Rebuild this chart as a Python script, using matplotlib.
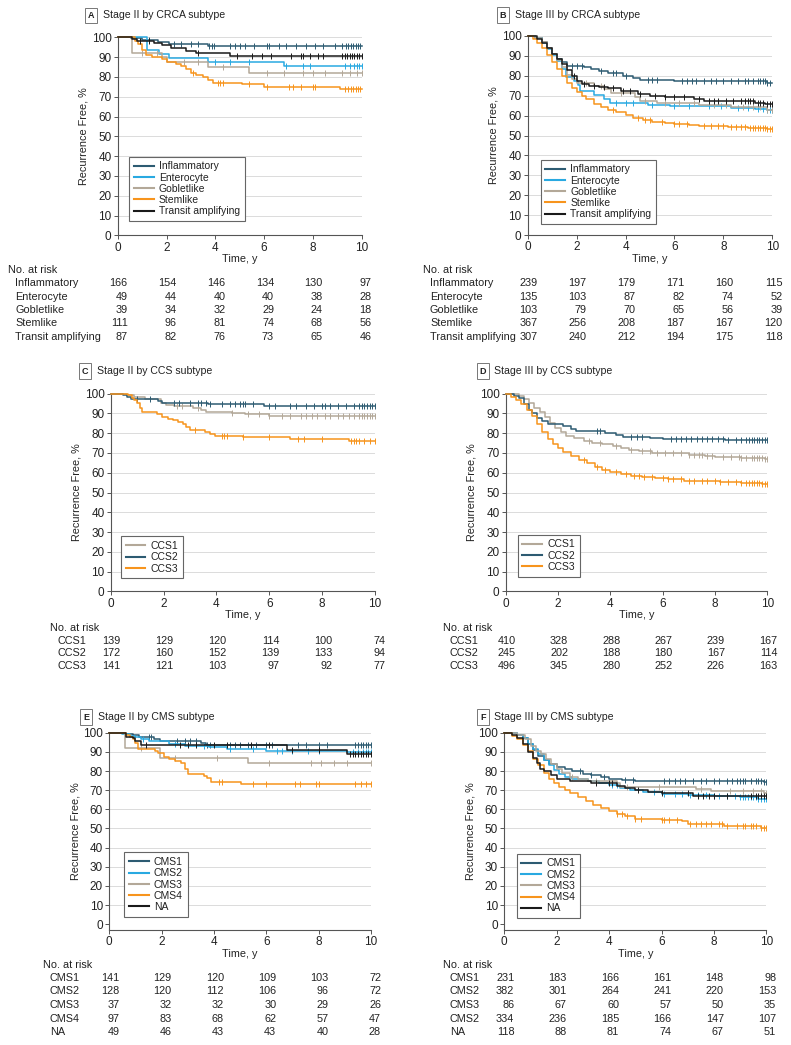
import numpy as np
import matplotlib
matplotlib.use('Agg')
import matplotlib.pyplot as plt
from matplotlib.transforms import blended_transform_factory

plt.rcParams['font.family'] = ['Liberation Sans', 'DejaVu Sans']
plt.rcParams['text.color'] = '#222222'

# colours
DARK = '#2d5b72'
BLUE = '#29a9e1'
GRAY = '#b3a898'
ORANGE = '#f7941d'
BLACK = '#1a1a1a'

TICKS = [0, 2, 4, 6, 8, 10]

# ---------------- Panel A: stage II by CRCA subtype ----------------
A_INFL_T = [0.55, 1.0, 1.65, 2.1, 3.7]
A_INFL_S = [99.4, 98.8, 97.6, 96.5, 95.8]
A_INFL_C = [1.3, 2.3, 2.6, 3.0, 3.3, 3.75, 3.85, 3.95, 4.6, 4.8, 5.0, 5.2, 5.6, 6.1, 6.2, 6.6, 6.9,
            7.3, 7.7, 8.1, 8.4, 8.9, 9.2, 9.35, 9.45, 9.55, 9.65, 9.75, 9.85, 9.95]
A_ENT_T = [1.2, 1.7, 2.1, 3.7, 6.8]
A_ENT_S = [93.8, 91.7, 89.6, 87.5, 85.4]
A_ENT_C = [4.0, 4.6, 5.4, 6.9, 7.6, 7.9, 9.3, 9.5, 9.7, 9.8, 9.9, 10.0]
A_GOB_T = [0.6, 1.8, 2.0, 3.7, 5.4]
A_GOB_S = [92.3, 89.9, 87.4, 84.8, 82.0]
A_GOB_C = [1.0, 1.6, 2.7, 3.3, 4.3, 6.1, 6.8, 7.6, 8.0, 8.5, 9.2, 9.5, 9.8, 10.0]
A_STEM_T = [0.7, 0.85, 1.0, 1.15, 1.4, 1.8, 2.0, 2.4, 2.6, 2.8, 3.0, 3.2, 3.5, 3.7, 3.9, 5.1, 6.0, 9.1]
A_STEM_S = [98.2, 96.4, 93.7, 91.0, 90.1, 89.2, 87.4, 86.5, 85.6, 83.8, 82.0, 81.1, 80.2, 78.4,
            77.0, 76.2, 75.0, 73.9]
A_STEM_C = [3.1, 4.1, 4.2, 4.3, 5.4, 6.1, 7.0, 7.2, 7.5, 8.0, 8.1, 9.3, 9.45, 9.55, 9.65, 9.75, 9.85, 9.95]
A_TA_T = [0.6, 0.8, 1.5, 1.8, 2.2, 2.8, 3.2, 4.6]
A_TA_S = [99.0, 98.0, 97.3, 96.1, 94.4, 93.2, 92.2, 90.7]
A_TA_C = [0.9, 1.3, 3.3, 4.9, 5.5, 5.9, 6.3, 7.1, 7.5, 7.6, 7.9, 8.2, 8.4, 9.2, 9.3, 9.4, 9.5, 9.6,
          9.7, 9.8, 9.9, 10.0]

# ---------------- Panel B: stage III by CRCA subtype ----------------
B_INFL_T = [0.3, 0.6, 0.8, 1.0, 1.2, 1.4, 1.6, 2.3, 2.6, 2.9, 3.3, 3.9, 4.3, 4.6, 6.0, 9.8]
B_INFL_S = [99.2, 97.0, 94.2, 91.0, 88.6, 86.7, 85.0, 84.3, 83.2, 82.2, 81.2, 80.0, 79.0, 78.0, 77.2, 76.6]
B_INFL_C = [1.8, 2.0, 2.2, 3.0, 3.5, 3.6, 4.0, 4.9, 5.1, 5.3, 6.3, 6.5, 6.7, 6.9, 7.2, 7.5, 7.7, 8.0,
            8.3, 8.6, 8.9, 9.0, 9.2, 9.4, 9.5, 9.6, 9.7, 9.8, 9.9]
B_ENT_T = [0.3, 0.6, 0.8, 1.0, 1.2, 1.4, 1.55, 1.9, 2.05, 2.15, 2.7, 3.1, 3.35, 4.9, 5.8, 8.3, 9.3, 9.8]
B_ENT_S = [99.0, 96.5, 93.5, 90.5, 87.5, 83.5, 79.5, 77.5, 75.5, 72.5, 70.5, 68.2, 66.2, 65.5, 64.8,
           64.0, 63.1, 62.6]
B_ENT_C = [3.6, 4.0, 4.3, 5.1, 6.0, 6.6, 7.4, 7.9, 8.6, 9.0, 9.4, 9.6, 9.8, 9.9, 10.0]
B_GOB_T = [0.3, 0.6, 0.8, 1.0, 1.2, 1.4, 1.6, 1.8, 2.0, 2.7, 3.1, 3.4, 4.4, 4.6, 5.3, 7.0, 8.3, 9.8]
B_GOB_S = [99.0, 97.0, 94.0, 91.0, 88.0, 84.5, 80.5, 78.5, 76.5, 75.0, 73.5, 71.5, 69.5, 67.5, 66.5,
           65.5, 64.3, 62.8]
B_GOB_C = [2.4, 3.0, 3.8, 4.8, 5.6, 6.2, 6.8, 7.6, 8.1, 8.8, 9.2, 9.5, 9.8, 10.0]
B_STEM_T = [0.2, 0.4, 0.6, 0.8, 1.0, 1.2, 1.4, 1.6, 1.8, 2.0, 2.2, 2.4, 2.7, 3.0, 3.3, 3.6, 4.0, 4.3,
            4.7, 5.1, 5.6, 6.0, 6.6, 7.0, 7.6, 8.2, 9.0, 9.8]
B_STEM_S = [98.5, 96.5, 94.0, 90.5, 87.0, 83.5, 80.0, 76.5, 74.0, 72.0, 70.0, 68.5, 66.0, 64.5, 63.0,
            62.0, 60.5, 59.0, 58.0, 57.0, 56.5, 56.0, 55.5, 55.0, 54.6, 54.3, 54.0, 53.3]
B_STEM_C = [3.5, 4.5, 4.8, 5.0, 5.5, 6.0, 6.2, 6.5, 7.2, 7.5, 7.8, 8.0, 8.3, 8.5, 8.7, 8.9, 9.1, 9.2,
            9.3, 9.4, 9.5, 9.6, 9.7, 9.8, 9.9, 10.0]
B_TA_T = [0.4, 0.6, 0.8, 1.0, 1.2, 1.4, 1.6, 1.8, 2.0, 2.2, 2.5, 2.9, 3.3, 3.8, 4.5, 5.0, 5.6, 6.8,
          7.2, 9.3, 9.7]
B_TA_S = [98.5, 96.5, 94.0, 91.0, 88.5, 86.0, 83.0, 80.0, 77.5, 76.0, 75.0, 74.3, 73.7, 72.3, 71.0,
          70.0, 69.4, 68.3, 67.3, 66.3, 65.6]
B_TA_C = [1.9, 2.3, 2.7, 3.1, 3.5, 3.9, 4.2, 4.6, 5.2, 5.6, 6.0, 6.4, 7.0, 7.4, 7.6, 7.8, 8.1, 8.4,
          8.7, 8.9, 9.0, 9.1, 9.2, 9.4, 9.5, 9.6, 9.8, 9.9, 10.0]

# ---------------- Panel C: stage II by CCS subtype ----------------
C_CCS1_T = [0.6, 0.9, 1.3, 1.9, 2.1, 2.4, 3.1, 3.4, 3.6, 4.6, 5.1, 6.0]
C_CCS1_S = [99.3, 98.5, 97.2, 95.5, 94.4, 93.6, 92.8, 92.0, 90.6, 90.1, 89.5, 88.8]
C_CCS1_C = [2.5, 2.7, 3.3, 4.6, 5.2, 5.6, 6.0, 6.5, 6.8, 7.2, 7.4, 7.6, 7.8, 8.1, 8.3, 8.6, 8.8, 9.0,
            9.2, 9.4, 9.5, 9.6, 9.7, 9.8, 9.9, 10.0]
C_CCS2_T = [0.45, 0.6, 0.75, 1.8, 1.95, 3.7, 5.8]
C_CCS2_S = [99.3, 98.3, 97.2, 96.2, 95.2, 94.6, 94.0]
C_CCS2_C = [1.0, 1.5, 2.4, 2.6, 3.0, 3.3, 3.4, 3.6, 3.75, 4.2, 4.5, 4.7, 4.9, 5.0, 5.1, 5.4, 6.0, 6.2,
            6.8, 7.0, 7.4, 7.7, 8.0, 8.1, 8.3, 8.6, 8.9, 9.2, 9.4, 9.5, 9.6, 9.7, 9.8, 9.9, 10.0]
C_CCS3_T = [0.65, 0.8, 0.9, 1.0, 1.1, 1.2, 1.75, 1.95, 2.15, 2.35, 2.55, 2.75, 2.85, 3.0, 3.55, 3.75,
            3.95, 5.0, 6.8, 9.0]
C_CCS3_S = [99.1, 98.0, 96.9, 95.5, 93.0, 90.6, 89.5, 88.4, 87.3, 86.5, 85.7, 84.6, 83.2, 81.6, 80.6,
            79.6, 78.7, 77.9, 77.1, 76.2]
C_CCS3_C = [3.2, 4.2, 4.3, 4.4, 5.0, 6.0, 7.1, 7.3, 8.0, 9.1, 9.2, 9.3, 9.4, 9.6, 9.8, 10.0]

# ---------------- Panel D: stage III by CCS subtype ----------------
D_CCS1_T = [0.5, 0.7, 0.9, 1.1, 1.3, 1.5, 1.7, 1.9, 2.1, 2.3, 2.6, 3.0, 3.3, 3.7, 4.1, 4.4, 4.7, 5.1,
            5.6, 6.3, 7.0, 7.6, 8.0, 9.0, 9.9]
D_CCS1_S = [99.0, 97.5, 95.5, 93.0, 90.5, 88.0, 85.0, 82.5, 80.5, 78.5, 77.5, 76.0, 75.0, 74.3, 73.5,
            72.5, 71.5, 70.8, 70.2, 69.8, 69.2, 68.5, 68.0, 67.5, 66.8]
D_CCS1_C = [3.2, 3.6, 4.2, 4.8, 5.2, 5.5, 5.8, 6.1, 6.4, 6.7, 7.0, 7.2, 7.4, 7.5, 7.7, 7.9, 8.3, 8.6,
            8.9, 9.0, 9.2, 9.4, 9.5, 9.6, 9.7, 9.8, 9.9, 10.0]
D_CCS2_T = [0.3, 0.5, 0.7, 0.9, 1.0, 1.2, 1.4, 1.6, 2.2, 2.5, 2.7, 3.8, 4.2, 4.5, 5.5, 6.0, 8.4]
D_CCS2_S = [99.0, 98.0, 95.0, 92.0, 90.0, 87.5, 86.0, 84.5, 83.5, 82.0, 81.0, 80.0, 79.0, 78.0, 77.5,
            77.1, 76.4]
D_CCS2_C = [3.5, 3.6, 4.8, 5.0, 5.2, 6.3, 6.5, 6.7, 6.9, 7.1, 7.3, 7.5, 7.7, 7.9, 8.1, 8.3, 8.5, 8.8,
            9.0, 9.2, 9.3, 9.4, 9.5, 9.6, 9.7, 9.8, 9.9, 10.0]
D_CCS3_T = [0.2, 0.4, 0.6, 0.8, 1.0, 1.2, 1.4, 1.6, 1.8, 2.0, 2.2, 2.5, 2.8, 3.1, 3.4, 3.7, 4.0, 4.4,
            4.8, 5.2, 5.7, 6.2, 6.8, 7.5, 8.2, 9.0, 9.8]
D_CCS3_S = [98.5, 97.0, 95.0, 92.0, 88.5, 84.5, 80.5, 77.0, 74.5, 72.5, 70.5, 68.5, 66.5, 65.0, 63.0,
            61.5, 60.5, 59.5, 58.6, 57.8, 57.2, 56.7, 56.0, 55.6, 55.3, 55.0, 54.3]
D_CCS3_C = [3.0, 3.5, 3.8, 4.2, 4.6, 4.9, 5.1, 5.3, 5.6, 6.0, 6.2, 6.4, 6.7, 7.0, 7.2, 7.5, 7.7, 8.0,
            8.2, 8.5, 8.8, 9.0, 9.2, 9.3, 9.4, 9.5, 9.6, 9.7, 9.8, 9.9, 10.0]

# ---------------- Panel E: stage II by CMS subtype ----------------
E_CMS1_T = [0.6, 0.9, 1.15, 1.7, 1.95, 3.5, 3.7]
E_CMS1_S = [99.3, 98.6, 97.8, 96.6, 95.5, 94.6, 93.6]
E_CMS1_C = [1.5, 1.6, 2.6, 2.9, 3.1, 3.3, 3.75, 3.85, 4.6, 4.8, 5.0, 5.3, 5.6, 6.0, 6.2, 7.2, 7.5,
            8.0, 8.3, 9.4, 9.5, 9.6, 9.7, 9.8, 9.9, 10.0]
E_CMS2_T = [0.5, 0.8, 1.0, 1.2, 1.5, 2.3, 2.9, 3.8, 4.5, 6.0, 9.1]
E_CMS2_S = [99.3, 98.5, 97.7, 96.8, 95.6, 94.2, 93.2, 92.6, 91.5, 90.5, 89.8]
E_CMS2_C = [1.3, 2.5, 3.6, 4.6, 5.5, 6.4, 6.6, 7.0, 7.6, 8.0, 9.3, 9.5, 9.7, 9.8, 9.9, 10.0]
E_CMS3_T = [0.6, 1.95, 5.3]
E_CMS3_S = [91.9, 86.8, 84.0]
E_CMS3_C = [1.2, 2.5, 4.1, 6.1, 7.7, 8.1, 8.6, 9.1, 10.0]
E_CMS4_T = [0.65, 0.8, 0.9, 1.0, 1.1, 1.75, 1.85, 2.1, 2.3, 2.5, 2.75, 2.9, 3.0, 3.6, 3.75, 3.9, 5.05]
E_CMS4_S = [99.0, 97.9, 96.9, 94.8, 91.7, 90.6, 89.6, 87.5, 86.5, 85.4, 84.3, 81.2, 78.5, 77.3, 76.2,
            74.3, 73.1]
E_CMS4_C = [4.2, 4.3, 5.5, 6.0, 7.1, 7.3, 7.9, 8.0, 9.4, 9.6, 9.8, 10.0]
E_NA_T = [0.65, 0.9, 1.0, 1.2, 6.8, 9.1]
E_NA_S = [97.9, 97.0, 95.8, 93.6, 91.2, 88.8]
E_NA_C = [1.4, 2.7, 3.0, 3.3, 4.0, 4.5, 5.4, 6.1, 7.0, 8.0, 9.2, 9.3, 9.4, 9.5, 9.6, 9.7, 9.8, 9.9, 10.0]

# ---------------- Panel F: stage III by CMS subtype ----------------
F_CMS1_T = [0.5, 0.7, 0.9, 1.1, 1.3, 1.5, 1.7, 2.0, 2.3, 2.6, 3.0, 3.3, 3.7, 4.0, 4.5, 5.0, 9.9]
F_CMS1_S = [99.0, 97.0, 94.0, 91.0, 88.0, 85.5, 83.5, 82.0, 81.0, 80.0, 78.5, 78.0, 77.0, 76.0, 75.5,
            75.0, 74.5]
F_CMS1_C = [2.9, 3.3, 3.8, 4.6, 4.9, 6.1, 6.3, 6.5, 6.7, 6.9, 7.2, 7.5, 7.7, 8.0, 8.2, 8.5, 8.7, 8.9,
            9.0, 9.1, 9.2, 9.4, 9.6, 9.7, 9.8, 9.9, 10.0]
F_CMS2_T = [0.5, 0.7, 0.9, 1.1, 1.3, 1.5, 1.7, 1.9, 2.1, 2.3, 2.6, 3.2, 3.6, 4.0, 4.4, 4.8, 5.3, 6.0,
            7.0, 8.0, 9.0, 9.7]
F_CMS2_S = [99.0, 97.0, 94.0, 91.5, 89.0, 86.0, 83.0, 80.5, 78.5, 77.0, 76.0, 75.0, 74.0, 72.5, 71.0,
            70.0, 69.0, 68.0, 67.5, 67.0, 66.5, 65.5]
F_CMS2_C = [4.1, 4.3, 5.7, 6.1, 6.5, 6.8, 7.1, 7.4, 7.7, 8.0, 8.2, 8.5, 8.8, 9.0, 9.1, 9.2, 9.3, 9.4,
            9.5, 9.6, 9.7, 9.8, 9.9, 10.0]
F_CMS3_T = [0.5, 0.8, 1.0, 1.2, 1.4, 1.6, 1.8, 2.0, 2.2, 2.5, 2.8, 3.2, 4.3, 4.4, 7.3, 7.9, 9.9]
F_CMS3_S = [99.0, 96.5, 93.0, 90.5, 89.0, 86.5, 83.5, 81.0, 79.0, 77.0, 76.0, 75.0, 73.8, 71.5, 70.8,
            69.8, 68.5]
F_CMS3_C = [2.6, 3.5, 4.7, 5.9, 7.5, 8.6, 9.1, 9.5, 9.8, 10.0]
F_CMS4_T = [0.3, 0.5, 0.7, 0.9, 1.1, 1.3, 1.5, 1.7, 1.9, 2.1, 2.3, 2.5, 2.8, 3.1, 3.4, 3.7, 4.0, 4.3,
            4.6, 5.0, 5.5, 6.0, 6.8, 7.0, 8.4, 9.8]
F_CMS4_S = [98.5, 96.5, 93.5, 90.5, 86.5, 83.0, 79.0, 76.0, 73.5, 71.5, 70.0, 68.5, 66.5, 64.5, 62.0,
            60.5, 59.0, 57.8, 56.5, 55.2, 54.8, 54.5, 54.0, 52.5, 51.5, 50.5]
F_CMS4_C = [4.3, 4.5, 4.7, 5.0, 5.2, 6.0, 6.1, 6.3, 6.6, 7.1, 7.3, 7.5, 7.7, 7.9, 8.2, 8.3, 8.5, 8.9,
            9.1, 9.2, 9.4, 9.5, 9.6, 9.8, 9.9, 10.0]
F_NA_T = [0.3, 0.5, 0.7, 0.9, 1.1, 1.25, 1.35, 1.5, 1.8, 2.0, 2.5, 3.3, 4.3, 4.6, 5.0, 5.5, 6.0, 7.2]
F_NA_S = [99.0, 97.0, 94.0, 90.0, 87.0, 84.0, 81.0, 80.0, 78.0, 76.0, 75.0, 74.0, 72.0, 71.0, 70.0,
          69.0, 68.5, 67.0]
F_NA_C = [3.5, 4.0, 4.1, 5.1, 6.0, 7.0, 7.4, 7.6, 7.8, 8.0, 8.5, 9.4, 9.6, 9.7, 9.8, 9.9, 10.0]

# ---------------- numbers at risk ----------------
CRCA_LABELS = ['Inflammatory', 'Enterocyte', 'Gobletlike', 'Stemlike', 'Transit amplifying']
A_RISK = [[166, 154, 146, 134, 130, 97],
          [49, 44, 40, 40, 38, 28],
          [39, 34, 32, 29, 24, 18],
          [111, 96, 81, 74, 68, 56],
          [87, 82, 76, 73, 65, 46]]
B_RISK = [[239, 197, 179, 171, 160, 115],
          [135, 103, 87, 82, 74, 52],
          [103, 79, 70, 65, 56, 39],
          [367, 256, 208, 187, 167, 120],
          [307, 240, 212, 194, 175, 118]]
CCS_LABELS = ['CCS1', 'CCS2', 'CCS3']
C_RISK = [[139, 129, 120, 114, 100, 74],
          [172, 160, 152, 139, 133, 94],
          [141, 121, 103, 97, 92, 77]]
D_RISK = [[410, 328, 288, 267, 239, 167],
          [245, 202, 188, 180, 167, 114],
          [496, 345, 280, 252, 226, 163]]
E_LABELS = ['CMS1', 'CMS2', 'CMS3', 'CMS4', 'NA']
F_LABELS = ['CMS1', 'CMS2', 'CMS3', 'CMS2', 'NA']
E_RISK = [[141, 129, 120, 109, 103, 72],
          [128, 120, 112, 106, 96, 72],
          [37, 32, 32, 30, 29, 26],
          [97, 83, 68, 62, 57, 47],
          [49, 46, 43, 43, 40, 28]]
F_RISK = [[231, 183, 166, 161, 148, 98],
          [382, 301, 264, 241, 220, 153],
          [86, 67, 60, 57, 50, 35],
          [334, 236, 185, 166, 147, 107],
          [118, 88, 81, 74, 67, 51]]

W, H = 791, 1045
fig = plt.figure(figsize=(W / 100, H / 100), dpi=100)


def fx(x):
    return x / W


def fy(y):
    return 1 - y / H


def make_axes(x0, x1, y0, y1, ylo=0):
    ax = fig.add_axes([fx(x0), fy(y1), fx(x1) - fx(x0), fy(y0) - fy(y1)])
    ax.set_xlim(0, 10)
    ax.set_ylim(ylo, 100)
    ax.set_xticks(TICKS)
    ax.set_yticks(range(0, 101, 10))
    for g in range(10, 101, 10):
        ax.axhline(g, color='#d6d6d6', lw=0.6, zorder=0)
    for s in ['top', 'right']:
        ax.spines[s].set_visible(False)
    for s in ['left', 'bottom']:
        ax.spines[s].set_color('#555555')
        ax.spines[s].set_linewidth(0.8)
    ax.tick_params(length=3, width=0.7, color='#555555', labelsize=8.5, pad=1.5, labelcolor='#222222')
    ax.set_ylabel('Recurrence Free, %', fontsize=7.8, labelpad=2, color='#222222')
    fig.text(fx((x0 + x1) / 2), fy(y1 + 24), 'Time, y', ha='center', va='center', fontsize=7.8)
    return ax


def km(ax, t, s, cens, color, label):
    tt = np.r_[0, t, 10]
    ss = np.r_[100, s, s[-1]]
    ax.step(tt, ss, where='post', color=color, lw=1.1, label=label, clip_on=False, zorder=3)
    idx = np.searchsorted(tt, cens, side='right') - 1
    ax.plot(cens, ss[idx], ls='none', marker='|', ms=4, mew=0.7, color=color, clip_on=False, zorder=3)


def legend(ax, anchor):
    lg = ax.legend(loc='lower left', bbox_to_anchor=anchor, borderaxespad=0, fontsize=7.5,
                   frameon=True, fancybox=False, edgecolor='#666666', framealpha=1,
                   handlelength=1.9, handletextpad=0.5, labelspacing=0.12, borderpad=0.45)
    lg.get_frame().set_linewidth(0.8)
    for ln in lg.get_lines():
        ln.set_linewidth(1.5)


def title(xbox, xtext, y, letter, text):
    fig.text(fx(xbox), fy(y), letter, fontsize=6.5, fontweight='bold', ha='center', va='center',
             bbox=dict(boxstyle='square,pad=0.35', fc='white', ec='#777777', lw=0.7))
    fig.text(fx(xtext), fy(y), text, fontsize=7.6, va='center')


def risk_table(ax, xlab, yno, ys, labels, rows):
    fig.text(fx(xlab), fy(yno), 'No. at risk', fontsize=7.8, va='center')
    tr = blended_transform_factory(ax.transData, fig.transFigure)
    for y, lab, row in zip(ys, labels, rows):
        fig.text(fx(xlab + 7), fy(y), lab, fontsize=7.8, va='center')
        for t, n in zip(TICKS, row):
            ax.annotate(str(n), xy=(t, fy(y)), xycoords=tr, xytext=(7.2, 0), textcoords='offset points',
                        ha='right', va='center', fontsize=7.8, annotation_clip=False)


ROWS5_TOP = [283, 296.5, 310, 323.5, 337]
ROWS3_MID = [641, 653.5, 666]
ROWS5_BOT = [978, 991.5, 1005, 1018.5, 1032]

# A
axA = make_axes(117.7, 361.7, 37.3, 235.3)
km(axA, A_INFL_T, A_INFL_S, A_INFL_C, DARK, 'Inflammatory')
km(axA, A_ENT_T, A_ENT_S, A_ENT_C, BLUE, 'Enterocyte')
km(axA, A_GOB_T, A_GOB_S, A_GOB_C, GRAY, 'Gobletlike')
km(axA, A_STEM_T, A_STEM_S, A_STEM_C, ORANGE, 'Stemlike')
km(axA, A_TA_T, A_TA_S, A_TA_C, BLACK, 'Transit amplifying')
legend(axA, (0.047, 0.072))
title(91, 102.7, 15.5, 'A', 'Stage II by CRCA subtype')
risk_table(axA, 8, 270, ROWS5_TOP, CRCA_LABELS, A_RISK)

# B
axB = make_axes(527.7, 772.3, 36, 235)
km(axB, B_INFL_T, B_INFL_S, B_INFL_C, DARK, 'Inflammatory')
km(axB, B_ENT_T, B_ENT_S, B_ENT_C, BLUE, 'Enterocyte')
km(axB, B_GOB_T, B_GOB_S, B_GOB_C, GRAY, 'Gobletlike')
km(axB, B_STEM_T, B_STEM_S, B_STEM_C, ORANGE, 'Stemlike')
km(axB, B_TA_T, B_TA_S, B_TA_C, BLACK, 'Transit amplifying')
legend(axB, (0.053, 0.055))
title(503, 515, 15, 'B', 'Stage III by CRCA subtype')
risk_table(axB, 423, 270, ROWS5_TOP, CRCA_LABELS, B_RISK)

# C
axC = make_axes(110.7, 375, 393.7, 591.3)
km(axC, C_CCS1_T, C_CCS1_S, C_CCS1_C, GRAY, 'CCS1')
km(axC, C_CCS2_T, C_CCS2_S, C_CCS2_C, DARK, 'CCS2')
km(axC, C_CCS3_T, C_CCS3_S, C_CCS3_C, ORANGE, 'CCS3')
legend(axC, (0.039, 0.066))
title(85, 97, 371, 'C', 'Stage II by CCS subtype')
risk_table(axC, 50, 628, ROWS3_MID, CCS_LABELS, C_RISK)

# D
axD = make_axes(505.7, 767.3, 393.7, 591.3)
km(axD, D_CCS1_T, D_CCS1_S, D_CCS1_C, GRAY, 'CCS1')
km(axD, D_CCS2_T, D_CCS2_S, D_CCS2_C, DARK, 'CCS2')
km(axD, D_CCS3_T, D_CCS3_S, D_CCS3_C, ORANGE, 'CCS3')
legend(axD, (0.046, 0.074))
title(483, 494, 371, 'D', 'Stage III by CCS subtype')
risk_table(axD, 443, 628, ROWS3_MID, CCS_LABELS, D_RISK)

# E
axE = make_axes(109.3, 371, 732.7, 930, ylo=-3)
km(axE, E_CMS1_T, E_CMS1_S, E_CMS1_C, DARK, 'CMS1')
km(axE, E_CMS2_T, E_CMS2_S, E_CMS2_C, BLUE, 'CMS2')
km(axE, E_CMS3_T, E_CMS3_S, E_CMS3_C, GRAY, 'CMS3')
km(axE, E_CMS4_T, E_CMS4_S, E_CMS4_C, ORANGE, 'CMS4')
km(axE, E_NA_T, E_NA_S, E_NA_C, BLACK, 'NA')
legend(axE, (0.057, 0.067))
title(86, 98, 717, 'E', 'Stage II by CMS subtype')
risk_table(axE, 43, 965, ROWS5_BOT, E_LABELS, E_RISK)

# F
axF = make_axes(504.3, 766.3, 732.7, 930, ylo=-3)
km(axF, F_CMS1_T, F_CMS1_S, F_CMS1_C, DARK, 'CMS1')
km(axF, F_CMS2_T, F_CMS2_S, F_CMS2_C, BLUE, 'CMS2')
km(axF, F_CMS3_T, F_CMS3_S, F_CMS3_C, GRAY, 'CMS3')
km(axF, F_CMS4_T, F_CMS4_S, F_CMS4_C, ORANGE, 'CMS4')
km(axF, F_NA_T, F_NA_S, F_NA_C, BLACK, 'NA')
legend(axF, (0.047, 0.06))
title(483, 494, 717, 'F', 'Stage III by CMS subtype')
risk_table(axF, 443, 965, ROWS5_BOT, F_LABELS, F_RISK)

fig.savefig('out.png', dpi=100, facecolor='white')
